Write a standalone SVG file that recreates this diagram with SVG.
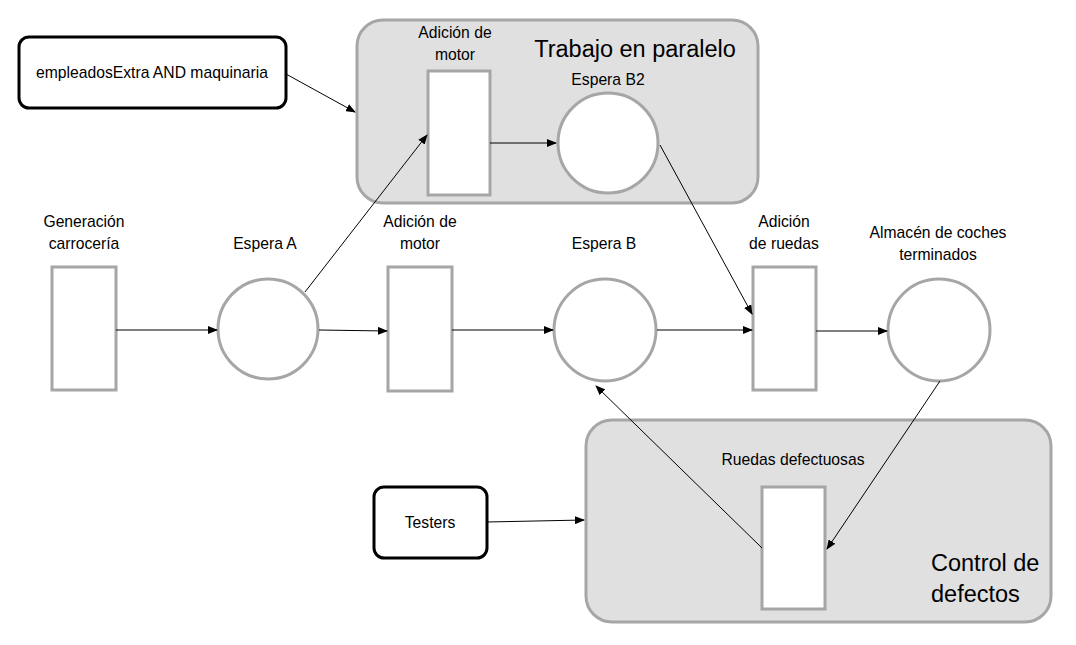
<svg xmlns="http://www.w3.org/2000/svg" width="1076" height="645" viewBox="0 0 1076 645">
<defs>
<marker id="ah" markerWidth="10" markerHeight="8" refX="9" refY="4" orient="auto" markerUnits="userSpaceOnUse">
<path d="M0,0 L10,4 L0,8 Z" fill="#000"/>
</marker>
<style>
.grp{fill:#e0e0e0;stroke:#a6a6a6;stroke-width:3}
.tr{fill:#fff;stroke:#a6a6a6;stroke-width:3}
.pl{fill:#fff;stroke:#a6a6a6;stroke-width:3}
.res{fill:#fff;stroke:#000;stroke-width:3}
.t{font-family:"Liberation Sans",Arial,sans-serif;font-size:15.7px;fill:#000;text-anchor:middle}
.big{font-family:"Liberation Sans",Arial,sans-serif;font-size:23.5px;fill:#000}
.c{stroke:#000;stroke-width:1;fill:none;marker-end:url(#ah)}
</style>
</defs>
<rect width="1076" height="645" fill="#fff"/>
<g id="grupo-paralelo">
<rect class="grp" x="357" y="20" width="401" height="183" rx="26"/>
<text class="big" x="635" y="57" text-anchor="middle">Trabajo en paralelo</text>
</g>
<g id="grupo-defectos">
<rect class="grp" x="586" y="420" width="465" height="202" rx="26"/>
<text class="big" x="931" y="571">Control de</text>
<text class="big" x="931" y="602">defectos</text>
</g>
<g id="empleados">
<rect class="res" x="19" y="37" width="267" height="71" rx="10"/>
<text class="t" x="152" y="78">empleadosExtra AND maquinaria</text>
</g>
<g id="testers">
<rect class="res" x="374" y="487" width="113" height="71" rx="10"/>
<text class="t" x="430" y="528">Testers</text>
</g>
<g id="motor-paralelo">
<rect class="tr" x="428" y="71" width="62" height="124"/>
<text class="t" x="455" y="38">Adición de</text>
<text class="t" x="455" y="60">motor</text>
</g>
<g id="espera-b2">
<circle class="pl" cx="608" cy="143" r="50"/>
<text class="t" x="608" y="85">Espera B2</text>
</g>
<g id="generacion">
<rect class="tr" x="52" y="267" width="64" height="123"/>
<text class="t" x="84" y="227">Generación</text>
<text class="t" x="84" y="249">carrocería</text>
</g>
<g id="espera-a">
<circle class="pl" cx="268" cy="329" r="50"/>
<text class="t" x="265" y="249">Espera A</text>
</g>
<g id="motor">
<rect class="tr" x="388" y="267" width="64" height="124"/>
<text class="t" x="420" y="227">Adición de</text>
<text class="t" x="420" y="249">motor</text>
</g>
<g id="espera-b">
<circle class="pl" cx="605" cy="330" r="51"/>
<text class="t" x="604" y="249">Espera B</text>
</g>
<g id="ruedas">
<rect class="tr" x="753" y="267" width="63" height="123"/>
<text class="t" x="784" y="227">Adición</text>
<text class="t" x="784" y="249">de ruedas</text>
</g>
<g id="almacen">
<circle class="pl" cx="939" cy="330" r="51"/>
<text class="t" x="938" y="238">Almacén de coches</text>
<text class="t" x="938" y="260">terminados</text>
</g>
<g id="ruedas-defectuosas">
<rect class="tr" x="762" y="487" width="63" height="122"/>
<text class="t" x="793" y="465">Ruedas defectuosas</text>
</g>
<g id="conectores">
<line class="c" x1="286" y1="74" x2="355" y2="112"/>
<line class="c" x1="490" y1="143" x2="556" y2="143"/>
<line class="c" x1="305" y1="292" x2="427" y2="135"/>
<line class="c" x1="660" y1="145" x2="752" y2="314"/>
<line class="c" x1="116" y1="330" x2="217" y2="330"/>
<line class="c" x1="319" y1="330" x2="387" y2="331"/>
<line class="c" x1="452" y1="330" x2="553" y2="330"/>
<line class="c" x1="657" y1="330" x2="752" y2="330"/>
<line class="c" x1="816" y1="331" x2="887" y2="331"/>
<line class="c" x1="940" y1="381" x2="827" y2="549"/>
<line class="c" x1="762" y1="548" x2="596" y2="386"/>
<line class="c" x1="487" y1="522" x2="584" y2="520"/>
</g>
</svg>
